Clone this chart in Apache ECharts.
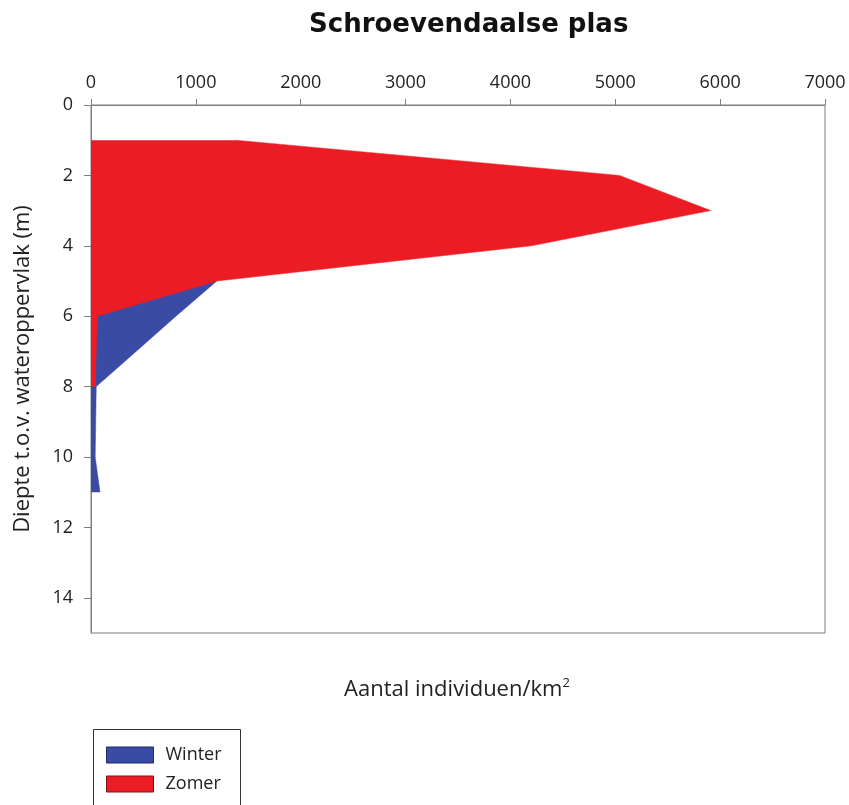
<!DOCTYPE html>
<html>
<head>
<meta charset="utf-8">
<script src="https://cdn.jsdelivr.net/npm/echarts@6/dist/echarts.min.js"></script>
<style>html,body{margin:0;padding:0;background:#fff}#c{width:849px;height:805px}</style>
</head>
<body>
<div id="c"></div>
<script>
// Depth categories (m)
const depths = ['0','1','2','3','4','5','6','7','8','9','10','11','12','13','14','15'];
// Aantal individuen/km2 per depth (null = no data)
const winter = [null, null, null, null, null, 1200, 810, 430, 50, 45, 40, 86, null, null, null, null];
const zomer  = [null, 1380, 5040, 5910, 4200, 1200, 60, 50, 40, null, null, null, null, null, null, null];
const xTicks = [0, 1000, 2000, 3000, 4000, 5000, 6000, 7000];

const FONT = 'Open Sans';
const chart = echarts.init(document.getElementById('c'));
chart.setOption({
  animation: false,
  backgroundColor: '#fff',
  title: {
    text: 'Schroevendaalse plas',
    left: 304, top: 7,
    textStyle: {fontFamily: 'DejaVu Sans', fontWeight: 'bold', fontSize: 26, color: '#111'}
  },
  grid: {left: 91, right: 24, top: 105, bottom: 172, show: true, borderColor: '#7f7f7f', borderWidth: 1},
  xAxis: {
    type: 'value', position: 'top', min: xTicks[0], max: xTicks[xTicks.length - 1], interval: 1000,
    axisLine: {show: true, lineStyle: {color: '#7f7f7f', width: 1}},
    axisTick: {show: true, length: 6, lineStyle: {color: '#7f7f7f'}},
    axisLabel: {fontFamily: FONT, fontSize: 18, color: '#222', margin: 13, formatter: v => String(v)},
    splitLine: {show: false}
  },
  yAxis: {
    type: 'category', data: depths, inverse: true, boundaryGap: false,
    name: 'Diepte t.o.v. wateroppervlak (m)', nameLocation: 'middle', nameGap: 57,
    nameTextStyle: {fontFamily: FONT, fontSize: 22, color: '#222'},
    axisLine: {show: true, lineStyle: {color: '#7f7f7f', width: 1}},
    axisTick: {show: true, interval: 1, length: 7, lineStyle: {color: '#7f7f7f'}},
    axisLabel: {interval: 1, fontFamily: FONT, fontSize: 18, color: '#222', margin: 18},
    splitLine: {show: false}
  },
  legend: {
    orient: 'vertical', left: 106, top: 746, itemWidth: 47, itemHeight: 16, itemGap: 11,
    padding: 0,
    textStyle: {fontFamily: FONT, fontSize: 18, color: '#222', padding: [0, 0, 0, 7]},
    data: [
      {name: 'Winter', icon: 'rect', itemStyle: {color: '#3a4ba6', borderColor: '#1f2a66', borderWidth: 1}},
      {name: 'Zomer', icon: 'rect', itemStyle: {color: '#ec1c24', borderColor: '#7a1015', borderWidth: 1}}
    ]
  },
  graphic: [
    {type: 'rect', left: 91, top: 727, shape: {width: 147, height: 100}, style: {fill: 'none', stroke: '#333', lineWidth: 1}, z: -1},
    {type: 'text', x: 457, y: 690, style: {
      text: 'Aantal individuen/km{sup|2}', fontFamily: FONT, fontSize: 22, fill: '#222',
      align: 'center', verticalAlign: 'middle',
      rich: {sup: {fontFamily: FONT, fontSize: 13, fill: '#222', verticalAlign: 'top', padding: [0, 0, 14, 0]}}
    }}
  ],
  series: [
    {name: 'Winter', type: 'line', data: winter, symbol: 'none', connectNulls: false,
     lineStyle: {color: '#3a4ba6', width: 0.5}, itemStyle: {color: '#3a4ba6'},
     areaStyle: {color: '#3a4ba6', opacity: 1}},
    {name: 'Zomer', type: 'line', data: zomer, symbol: 'none', connectNulls: false,
     lineStyle: {color: '#ec1c24', width: 0.5}, itemStyle: {color: '#ec1c24'},
     areaStyle: {color: '#ec1c24', opacity: 1}}
  ]
});
</script>
</body>
</html>
